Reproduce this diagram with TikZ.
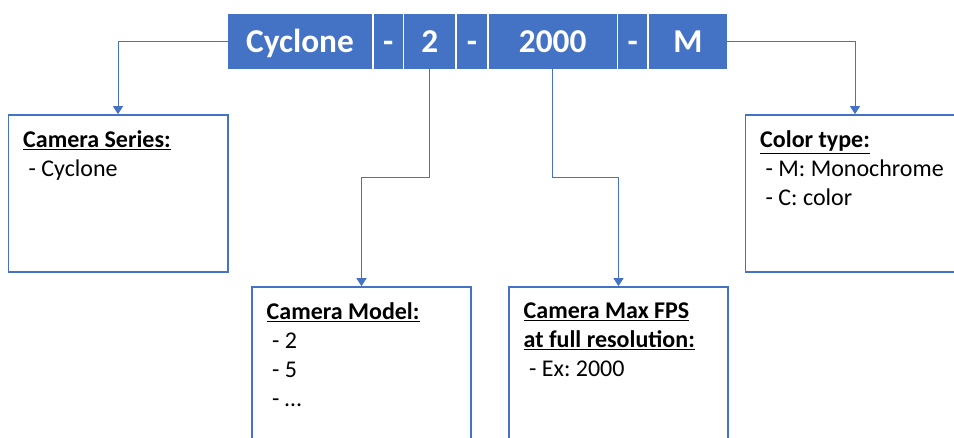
\documentclass[tikz,border=0pt]{standalone}
\usepackage{fontspec}
\setmainfont{Carlito}
\frenchspacing
\usetikzlibrary{positioning,arrows.meta}
\definecolor{cblue}{HTML}{4472C4}
\tikzset{
  seg/.style={fill=cblue, text=white, font=\fontsize{25}{28}\selectfont\bfseries,
    minimum height=41.25pt, text height=18pt, text depth=2pt, inner sep=0pt, outer sep=0pt},
  box/.style={draw=cblue, line width=1.25pt, minimum width=164.5pt, inner sep=0pt},
  txt/.style={font=\fontsize{18}{21.75}\selectfont, align=left, inner sep=0pt},
  conn/.style={draw=cblue, line width=0.75pt, -{Triangle[width=7.5pt,length=6pt]}}
}
\begin{document}
\begin{tikzpicture}[x=0.75pt,y=-0.75pt]
    \useasboundingbox (0,0) rectangle (954,438);
    \clip (0,0) rectangle (954,438);
    \begin{scope}
      \node[seg, minimum width=108pt] (cyc) at (300,41.5) {Cyclone};
      \node[seg, minimum width=21.75pt, right=1.25pt of cyc] (d1) {-};
      \node[seg, minimum width=38.25pt, right=1.25pt of d1] (two) {2};
      \node[seg, minimum width=22.5pt, right=1.25pt of two] (d2) {-};
      \node[seg, minimum width=96pt, right=1.25pt of d2] (fps) {2000};
      \node[seg, minimum width=21.75pt, right=1.25pt of fps] (d3) {-};
      \node[seg, minimum width=58.5pt, right=1.25pt of d3] (mono) {M};

      \node[box, minimum height=117.75pt] (series) at (118,193.5) {};
      \node[box, minimum height=129.75pt] (model) at (361.5,373.5) {};
      \node[box, minimum height=129.75pt] (maxfps) at (618.5,373.5) {};
      \node[box, minimum height=117.75pt] (ctype) at (855,193.5) {};

      \node[txt, below right=12pt and 11.6pt of series.north west] (seriestxt)
        {\underline{\textbf{Camera Series:}}\\~- Cyclone};
      \node[txt, below right=12pt and 11.6pt of model.north west] (modeltxt)
        {\underline{\textbf{Camera Model:}}\\~- 2\\~- 5\\~- \dots};
      \node[txt, below right=12pt and 11.6pt of maxfps.north west] (maxfpstxt)
        {\underline{\textbf{Camera Max FPS}}\\\underline{\textbf{at full resolution:}}\\~- Ex: 2000};
      \node[txt, below right=12pt and 11.6pt of ctype.north west] (ctypetxt)
        {\underline{\textbf{Color type:}}\\~- M: Monochrome\\~- C: color};

      \coordinate (bend) at (0,178);
      \draw[conn] (cyc.west) -| (series.north);
      \draw[conn] (two.south) -- (two.south |- bend) -| (model.north);
      \draw[conn] (fps.south) -- (fps.south |- bend) -| (maxfps.north);
      \draw[conn] (mono.east) -| (ctype.north);
    \end{scope}
\end{tikzpicture}
\end{document}
